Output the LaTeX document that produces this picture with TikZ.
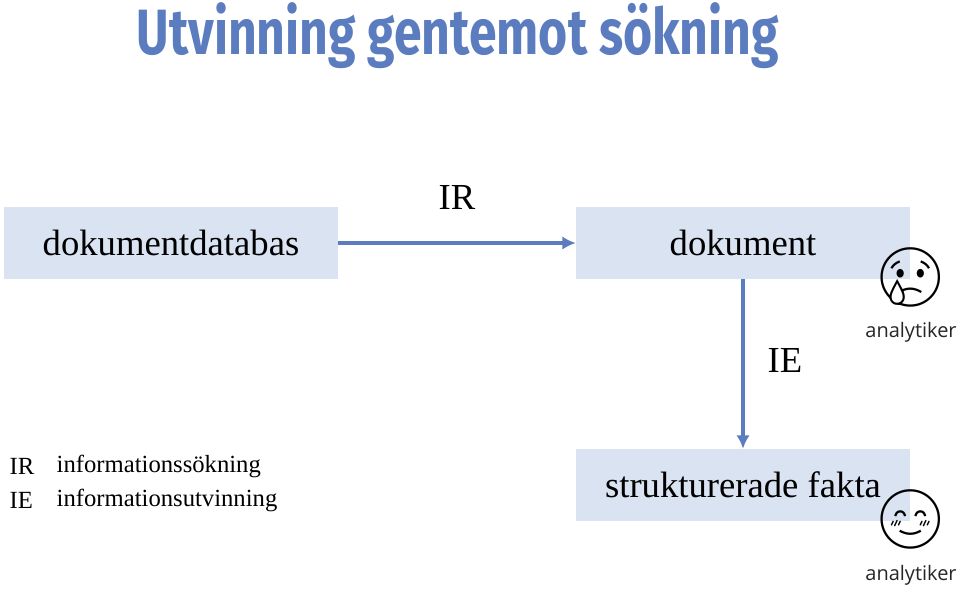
\documentclass[tikz,border=0pt]{standalone}
\usetikzlibrary{arrows.meta}
\usepackage{fontspec}
\setmainfont{Liberation Serif}
\newfontfamily\titlefont{Fira Sans}
\newfontfamily\labfont{Open Sans}
\newfontfamily\emo{Noto Emoji}
\definecolor{blu}{HTML}{5B7DC0}
\definecolor{boxc}{HTML}{DAE3F2}
\begin{document}
\begin{tikzpicture}[x=0.75pt,y=-0.75pt,
  box/.style={fill=boxc,draw=none,minimum width=250.5pt,minimum height=54pt,inner sep=0pt,font=\fontsize{27.5}{30}\selectfont},
  arr/.style={draw=blu,line width=2.5pt,-{Latex[length=10pt,width=10pt]}},
  lab/.style={font=\fontsize{27.5}{30}\selectfont},
  anal/.style={font=\labfont\fontsize{15}{17}\selectfont,text=black!85},
  emoj/.style={font=\emo\fontsize{44}{48}\selectfont},
  leg/.style={font=\fontsize{18.5}{20}\selectfont,anchor=west}]
\useasboundingbox (0,0) rectangle (959,589);
\node (title) at (458,36) {\scalebox{0.78}[1]{\titlefont\bfseries\color{blu}\fontsize{48}{52}\selectfont Utvinning gentemot sökning}};
\node[box] (db) at (171,243) {dokumentdatabas};
\node[box] (dok) at (743,243) {dokument};
\node[box] (sf) at (743,485) {strukturerade fakta};
\draw[arr] (db.east) -- (dok.west);
\draw[arr] (dok.south) -- (sf.north);
\node[lab] (ir) at (457,197) {IR};
\node[lab] (ie) at (785,360) {IE};
\node[emoj] (e1) at (911,277) {😢};
\node[anal] (a1) at (911,332) {analytiker};
\node[emoj] (e2) at (911,519) {😊};
\node[anal] (a2) at (911,575) {analytiker};
\node[leg] (l1) at (5,466) {IR};
\node[leg] (l1t) at (52,466) {informationssökning};
\node[leg] (l2) at (5,500) {IE};
\node[leg] (l2t) at (52,500) {informationsutvinning};
\end{tikzpicture}
\end{document}
